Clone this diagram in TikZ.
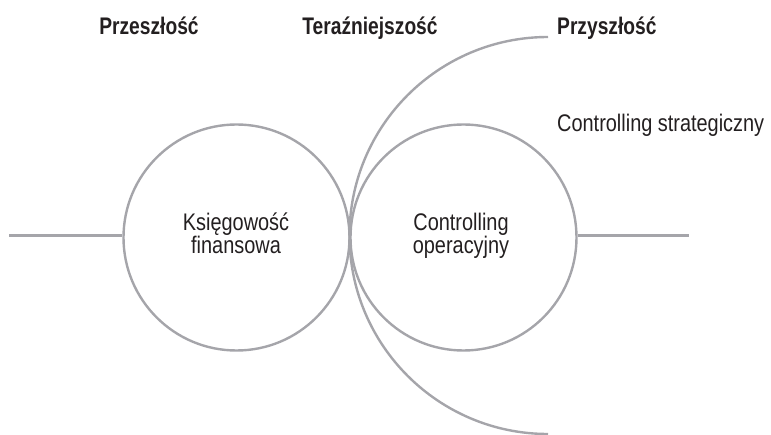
\documentclass[tikz,border=0pt]{standalone}
\usepackage{fontspec}
\setmainfont{Liberation Sans}[FakeStretch=0.83]
\newfontfamily\headfont{Liberation Sans}[FakeStretch=0.80]
\definecolor{linegray}{RGB}{165,165,170}
\definecolor{ink}{RGB}{35,31,32}
\begin{document}
\begin{tikzpicture}[x=1pt,y=1pt,
  ring/.style={circle, draw=linegray, line width=2.4pt, minimum size=226pt, inner sep=0pt},
  rule/.style={draw=linegray, line width=2.4pt},
  lbl/.style={inner sep=0pt, text=ink, font=\fontsize{24}{24}\selectfont},
  head/.style={inner sep=0pt, text=ink, font=\headfont\bfseries\fontsize{24}{24}\selectfont}]
  \useasboundingbox (0,0) rectangle (771,434);

  % time axis headings
  \node[head, anchor=base] (past) at (149,399) {Przeszłość};
  \node[head, anchor=base] (now) at (370,399) {Teraźniejszość};
  \node[head, anchor=base west] (future) at (557,399) {Przyszłość};

  % the two areas
  \node[ring] (fin) at (236.5,196.5) {};
  \node[ring] (oper) at (463.5,196.5) {};

  \node[lbl, anchor=base] (fin1) at (236,203) {Księgowość};
  \node[lbl, anchor=base] (fin2) at (236,180) {finansowa};
  \node[lbl, anchor=base] (op1) at (461,203) {Controlling};
  \node[lbl, anchor=base] (op2) at (461,180) {operacyjny};

  % strategic horizon
  \coordinate (arctop) at (548,397);
  \draw[rule] (arctop) arc[start angle=90, end angle=270, radius=198.5];
  \node[lbl, anchor=base west] (strat) at (557,302) {Controlling strategiczny};

  % horizontal axis
  \coordinate (axl) at (9,198.5);
  \coordinate (axr) at (688.5,198.5);
  \draw[rule] (axl) -- (axl -| fin.west);
  \draw[rule] (axr -| oper.east) -- (axr);
\end{tikzpicture}
\end{document}
